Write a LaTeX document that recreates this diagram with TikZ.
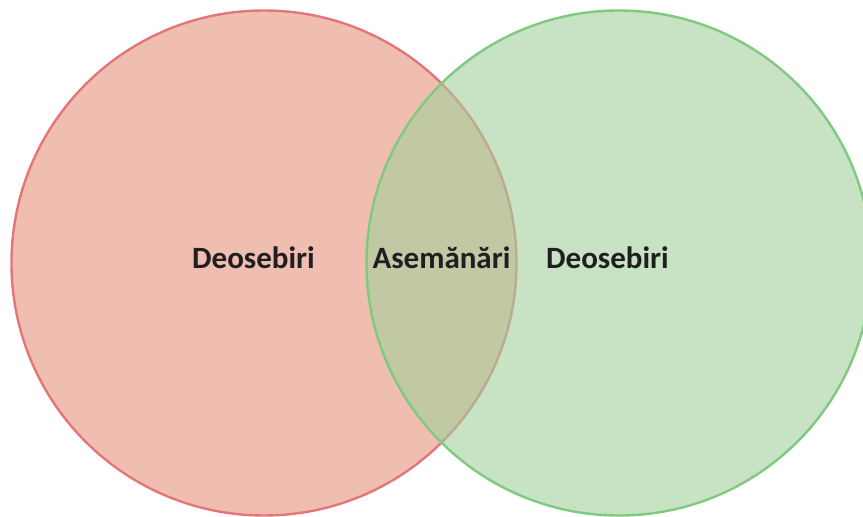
\documentclass[tikz,border=0pt]{standalone}
\usepackage{fontspec}
\setmainfont{Carlito}
\definecolor{redfill}{RGB}{240,190,176}
\definecolor{redline}{RGB}{226,118,120}
\definecolor{greenfill}{RGB}{163,207,157}
\definecolor{greenline}{RGB}{128,202,128}
\definecolor{txt}{RGB}{32,30,32}
\begin{document}
\begin{tikzpicture}[x=1pt,y=-1pt,
  venn/.style={circle,minimum size=505pt,inner sep=0pt,line width=2.4pt},
  lbl/.style={font=\fontsize{31}{36}\selectfont\bfseries,text=txt,anchor=base,inner sep=0pt}]
\useasboundingbox (0,0) rectangle (863,517);
\node[venn,fill=redfill,draw=redline] (left) at (264,263) {};
\node[venn,fill=greenfill,fill opacity=0.6,draw=greenline,draw opacity=1] (right) at (619,263) {};
\node[lbl] (d1) at (253.5,268) {Deosebiri};
\node[lbl] (as) at (441.5,268) {Asemănări};
\node[lbl] (d2) at (607.5,268) {Deosebiri};
\end{tikzpicture}
\end{document}
